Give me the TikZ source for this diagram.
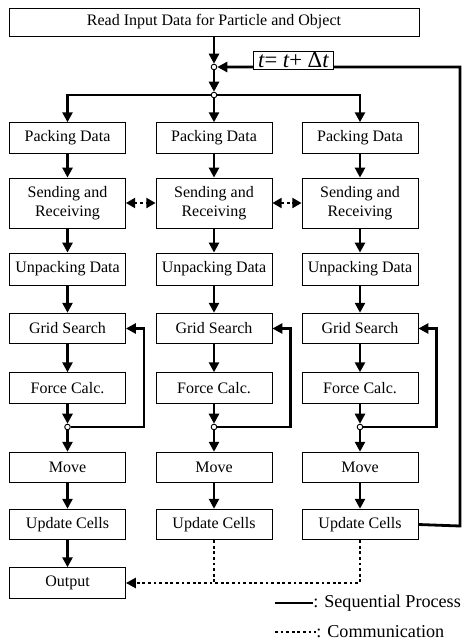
\documentclass[tikz,border=0pt]{standalone}
\usepackage{fontspec}
\setmainfont{Liberation Serif}
\usetikzlibrary{arrows.meta}
\begin{document}
\begin{tikzpicture}[x=0.75pt,y=-0.75pt,
  box/.style={draw,line width=0.6pt,minimum width=87pt,minimum height=23pt,inner sep=0pt,align=center,font=\fontsize{12}{14}\selectfont},
  flow/.style={line width=2.1pt,-{Triangle[length=7.5pt,width=7.5pt]}},
  seq/.style={line width=2.1pt},
  comm/.style={line width=2.1pt,dash pattern=on 2.1pt off 2.1pt},
  commarrow/.style={comm,-{Triangle[length=7.5pt,width=7.5pt]}},
  jn/.style={circle,draw,fill=white,line width=0.7pt,inner sep=0pt,minimum size=4.2pt},
  legend/.style={anchor=west,inner sep=0pt,font=\fontsize{13.6}{15}\selectfont}]
\useasboundingbox (0,0) rectangle (465,640);

\node[box,minimum width=307.5pt,minimum height=21pt] (read) at (214,22) {Read Input Data for Particle and Object};

\coordinate (loopR) at (460,67);
\coordinate (loopRB) at (460,526);

% columns
\foreach \c/\x in {1/67.5,2/214,3/360}{
  \node[box] (pack\c) at (\x,138) {Packing Data};
  \node[box,minimum height=37.5pt] (send\c) at (\x,203) {Sending and\\Receiving};
  \node[box,minimum height=24pt] (unp\c) at (\x,269) {Unpacking Data};
  \node[box] (grid\c) at (\x,328.5) {Grid Search};
  \node[box] (force\c) at (\x,388) {Force Calc.};
  \node[box] (move\c) at (\x,467.5) {Move};
  \node[box] (upd\c) at (\x,524.5) {Update Cells};
  \coordinate (lp\c) at (\x+76.5,427);
}
\node[box] (out) at (67.5,583) {Output};

\foreach \c in {1,2,3}{
  \draw[flow] (pack\c) -- (send\c);
  \draw[flow] (send\c) -- (unp\c);
  \draw[flow] (unp\c) -- (grid\c);
  \draw[flow] (grid\c) -- (force\c);
}
\foreach \c/\x in {1/67.5,2/214,3/360}{
  \node[jn] (jc\c) at (\x,427) {};
  \draw[flow] (force\c) -- (jc\c);
  \draw[flow] (jc\c) -- (move\c);
  \draw[flow] (move\c) -- (upd\c);
  \draw[flow] (jc\c) -- (lp\c) |- (grid\c.east);
}
\draw[flow] (upd1) -- (out);

% top junctions
\node[jn] (j1) at (214,67) {};
\node[jn] (j2) at (214,95) {};
\draw[flow] (read) -- (j1);
\draw[flow] (j1) -- (j2);
\draw[flow] (j2) -- (pack2);
\draw[flow] (j2) -| (pack1);
\draw[flow] (j2) -| (pack3);
\draw[flow] (upd3.east) -- (loopRB) -- (loopR) -- (j1);

\node[draw,line width=0.6pt,fill=white,anchor=south west,inner sep=1pt,minimum width=60pt,minimum height=13.5pt,font=\fontsize{17}{17}\selectfont] (dt) at (253,69.5) {\itshape t\upshape= \itshape t\upshape+ Δ\itshape t};

% communication
\draw[comm,{Triangle[length=7pt,width=7.5pt]}-{Triangle[length=7pt,width=7.5pt]}] (send1.east) -- (send2.west);
\draw[comm,{Triangle[length=7pt,width=7.5pt]}-{Triangle[length=7pt,width=7.5pt]}] (send2.east) -- (send3.west);
\draw[comm] (upd2.south) -- (upd2.south |- out.east);
\draw[commarrow] (upd3.south) |- (out.east);

% legend
\coordinate (ls1) at (275,603);
\coordinate (ls2) at (313,603);
\coordinate (lc1) at (275,632);
\coordinate (lc2) at (316,632);
\draw[seq] (ls1) -- (ls2);
\node[legend] (lsq) at (ls2) {: Sequential Process};
\draw[comm] (lc1) -- (lc2);
\node[legend] (lcm) at (lc2) {: Communication};
\end{tikzpicture}
\end{document}
